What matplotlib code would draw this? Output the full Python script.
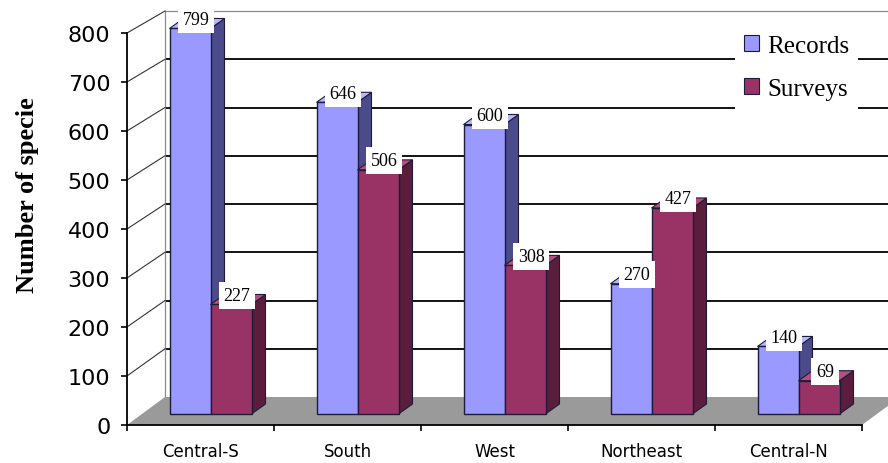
import matplotlib
matplotlib.use('Agg')
import matplotlib.pyplot as plt
from matplotlib.patches import Polygon, Patch

# ---------------- data ----------------
categories = ['Central-S', 'South', 'West', 'Northeast', 'Central-N']
records = [799, 646, 600, 270, 140]
surveys = [227, 506, 308, 427, 69]
series_names = ['Records', 'Surveys']
yticks = [0, 100, 200, 300, 400, 500, 600, 700, 800]
y_label = 'Number of specie'

# ---------------- styles ----------------
W, H = 888, 464
REC = dict(front='#9999FF', side='#4B4B8C', top='#B8B8FF')
SUR = dict(front='#993366', side='#5A1D3B', top='#B5507E')
EDGE = '#1C1C3A'
SERIF = 'Liberation Serif'

fig = plt.figure(figsize=(W / 100, H / 100), dpi=100)
AX_L, AX_R, AX_B, AX_T = 127, 862, 426, 34
ax = fig.add_axes([AX_L / W, 1 - AX_B / H, (AX_R - AX_L) / W, (AX_B - AX_T) / H])
n = len(categories)
ymax = yticks[-1]
ax.set_xlim(-0.5, n - 0.5)
ax.set_ylim(0, ymax)
ax.patch.set_alpha(0)

px_x = (AX_R - AX_L) / n
px_y = (AX_B - AX_T) / ymax


def dxu(px):
    return px / px_x


def dyu(px):
    return px / px_y


# back wall projection (slight perspective)
BX = dxu(38)
B0 = dyu(28)
BTOP = ymax + dyu(22)
K = (BTOP - B0) / ymax


def back_y(v):
    return B0 + v * K


xl, xr = -0.5, n - 0.5

# back wall gridlines
for v in yticks[1:]:
    col = '#8a8a8a' if v == ymax else 'black'
    lw = 0.9 if v == ymax else 1.3
    ax.plot([xl + BX, xr + BX + 1], [back_y(v), back_y(v)], color=col, lw=lw,
            clip_on=False, zorder=1, solid_capstyle='butt')
# back wall left edge
ax.plot([xl + BX, xl + BX], [back_y(0), back_y(ymax)], color='#8a8a8a', lw=0.9,
        clip_on=False, zorder=1)
# left wall diagonals
for v in yticks[1:]:
    ax.plot([xl, xl + BX], [v, back_y(v)], color='#333333', lw=0.8,
            clip_on=False, zorder=1)

# floor
floor = Polygon([(xl, 0), (xr, 0), (xr + BX, back_y(0)), (xl + BX, back_y(0))],
                closed=True, fc='#9a9a9a', ec='none', zorder=2, clip_on=False)
ax.add_patch(floor)

# bars
BW = dxu(41)
SHIFT = dxu(10)
DDX = dxu(14)
DDY = dyu(10)
BASE = dyu(11)


def bar_y(v):
    return BASE + v * K


def draw_bar(x0, x1, v, c):
    y0, y1 = bar_y(0), bar_y(v)
    side = Polygon([(x1, y0), (x1 + DDX, y0 + DDY), (x1 + DDX, y1 + DDY), (x1, y1)],
                   closed=True, fc=c['side'], ec=EDGE, lw=0.8, zorder=3, clip_on=False)
    top = Polygon([(x0, y1), (x1, y1), (x1 + DDX, y1 + DDY), (x0 + DDX, y1 + DDY)],
                  closed=True, fc=c['top'], ec=EDGE, lw=0.8, zorder=3, clip_on=False)
    front = Polygon([(x0, y0), (x1, y0), (x1, y1), (x0, y1)],
                    closed=True, fc=c['front'], ec=EDGE, lw=1.0, zorder=3, clip_on=False)
    for p in (side, top, front):
        ax.add_patch(p)
    ax.text((x0 + x1) / 2 + dxu(6), y1 + dyu(9), str(v), ha='center', va='center',
            fontsize=13, family=SERIF, color='black', zorder=6,
            bbox=dict(fc='white', ec='none', pad=3.5))


for i in range(n):
    xb = i + SHIFT
    draw_bar(xb - BW, xb, records[i], REC)
    draw_bar(xb, xb + BW, surveys[i], SUR)

# axes / ticks
for s in ('top', 'right'):
    ax.spines[s].set_visible(False)
ax.spines['left'].set_linewidth(1.3)
ax.spines['bottom'].set_linewidth(1.3)
ax.set_yticks(yticks)
ax.set_yticklabels([str(t) for t in yticks])
ax.tick_params(axis='y', direction='out', length=4, width=1.2, pad=8,
               labelsize=16, labelfontfamily='DejaVu Sans')
ax.set_xticks([i - 0.5 for i in range(n + 1)])
ax.set_xticklabels([''] * (n + 1))
ax.tick_params(axis='x', which='major', direction='out', length=4, width=1.2)
ax.set_xticks(list(range(n)), minor=True)
ax.set_xticklabels(categories, minor=True)
ax.tick_params(axis='x', which='minor', length=0, pad=12, labelsize=12)

# y label
fig.text(28 / W, 1 - 195 / H, y_label, rotation=90, ha='center', va='center',
         fontsize=19, fontweight='bold', family=SERIF)

# legend
handles = [Patch(fc=REC['front'], ec=EDGE, lw=0.8), Patch(fc=SUR['front'], ec=EDGE, lw=0.8)]
leg = fig.legend(handles, series_names, loc='upper left',
                 bbox_to_anchor=(735 / W, 1 - 27 / H), frameon=True, fancybox=False,
                 facecolor='white', edgecolor='none', framealpha=1,
                 prop={'family': SERIF, 'size': 18}, handlelength=0.6, handleheight=0.6,
                 handletextpad=0.35, labelspacing=0.85, borderpad=0.35, borderaxespad=0)

fig.savefig('out.png', dpi=100)
